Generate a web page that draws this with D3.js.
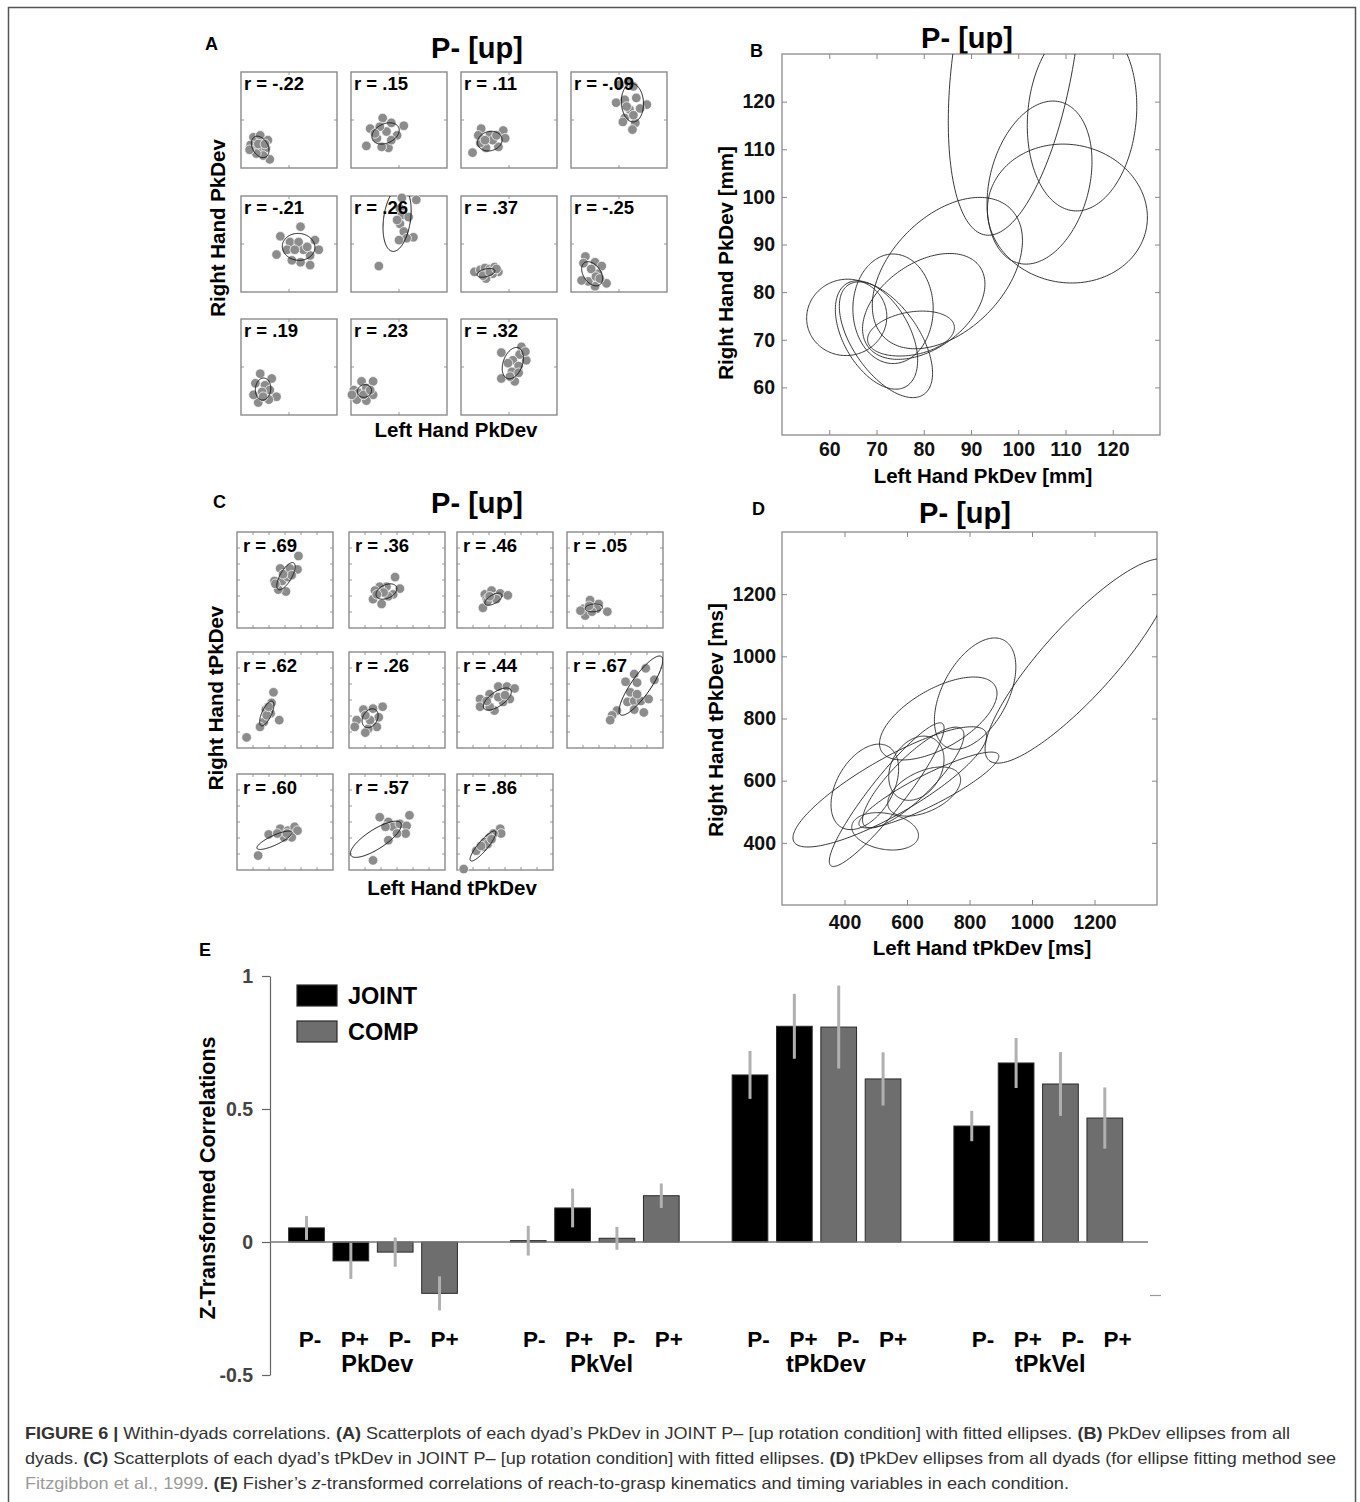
<!DOCTYPE html>
<html>
<head>
<meta charset="utf-8">
<script src="https://cdn.jsdelivr.net/npm/d3@7/dist/d3.min.js"></script>
<style>
body { margin: 0; background: #fff; }
text { font-family: "Liberation Sans", Arial, Helvetica, sans-serif; }
</style>
</head>
<body>
<script>
// ---- panel A: PkDev scatter per dyad (axes are unlabeled, 0-100 per panel)
var panelA_r = ["-.22", ".15", ".11", "-.09", "-.21", ".26", ".37", "-.25", ".19", ".23", ".32"];
var panelA_points = [
    [[13,32],[20,34],[28,29],[10,24],[13,18],[22,22],[26,21],[30,9],[23,13],[16,15],[18,25],[25,25],[9,19]],
    [[16,23],[20,41],[33,52],[42,47],[55,44],[48,34],[39,21],[32,22],[27,31],[37,38],[30,43],[25,36],[42,29]],
    [[12,16],[21,41],[30,34],[44,39],[46,31],[39,22],[26,21],[20,26],[18,34],[33,29],[25,29],[37,34]],
    [[51,87],[60,89],[65,85],[47,68],[56,71],[68,73],[79,66],[72,62],[61,61],[56,52],[67,47],[64,40],[54,48],[65,55],[58,64]],
    [[41,58],[62,68],[51,52],[60,52],[77,54],[81,44],[72,38],[72,28],[62,31],[53,33],[37,39],[48,44],[65,44],[69,47],[56,44]],
    [[53,98],[68,96],[51,87],[53,80],[60,78],[51,71],[55,63],[65,57],[58,56],[50,54],[29,27],[48,75]],
    [[14,21],[20,23],[25,25],[30,24],[35,26],[39,21],[33,19],[26,14],[23,17],[30,21],[37,24]],
    [[15,37],[13,30],[25,31],[32,27],[28,19],[37,9],[25,6],[18,11],[11,12],[21,24],[26,16],[30,14]],
    [[20,43],[32,38],[15,33],[25,31],[30,26],[37,19],[29,16],[18,13],[13,21],[22,24],[23,19]],
    [[11,35],[23,35],[3,26],[8,23],[16,28],[23,21],[16,15],[6,16],[1,21],[13,21],[20,26]],
    [[42,65],[63,71],[68,57],[61,63],[54,57],[49,54],[60,51],[53,45],[42,38],[56,35],[51,40],[60,44],[67,66]]
];
// [cx, cy, rx, ry, rotation deg]
var panelA_ellipses = [
    [20,22,8,12,30], [36,36,15,10,25], [30,28,13,10,15], [64,68,11.5,20,3],
    [60,47,17,14,-5], [48,76,14,34,-8], [26,20,9.5,4,15], [22,19,9,14,35],
    [23,27,8,11.5,-5], [14,25,7.5,6.5,20], [54,54,10,17,-20]
];

// ---- panel C: tPkDev scatter per dyad
var panelC_r = [".69", ".36", ".46", ".05", ".62", ".26", ".44", ".67", ".60", ".57", ".86"];
var panelC_points = [
    [[64,75],[63,61],[55,62],[45,62],[39,49],[47,49],[53,53],[51,38],[43,40],[40,46],[57,55],[48,56]],
    [[48,53],[53,41],[46,35],[39,43],[32,43],[27,39],[25,30],[34,25],[41,33],[36,37],[29,35]],
    [[29,35],[36,39],[45,36],[53,34],[38,32],[31,30],[27,21],[32,28],[41,30],[34,33]],
    [[17,20],[24,29],[33,25],[31,20],[42,17],[19,13],[26,17],[23,23],[14,18]],
    [[38,58],[36,47],[30,40],[35,36],[44,29],[28,27],[24,22],[10,11],[31,34],[33,43]],
    [[15,40],[35,43],[25,41],[31,32],[29,22],[20,20],[17,16],[8,29],[6,22],[22,29],[17,34]],
    [[24,51],[24,43],[34,56],[43,64],[52,64],[60,62],[55,51],[48,48],[39,39],[34,43],[31,49],[43,53],[50,55]],
    [[70,77],[82,83],[91,71],[73,68],[61,69],[63,48],[70,49],[77,49],[85,51],[80,37],[70,40],[52,39],[47,34],[45,29],[66,58],[73,56]],
    [[33,37],[45,43],[53,41],[60,45],[63,41],[57,34],[49,34],[42,38],[22,15],[52,38]],
    [[32,55],[41,50],[46,45],[53,48],[63,57],[60,46],[59,38],[50,38],[41,31],[25,10],[38,45]],
    [[45,43],[46,38],[38,38],[34,34],[29,29],[27,24],[20,20],[7,1],[32,27],[25,25],[36,32]]
];
var panelC_ellipses = [
    [51,54,16,6,60], [39,38,11.5,7,25], [38,30,10,4.5,30], [28,21,9,4,5],
    [31,36,14,5,65], [22,31,10.5,7.5,60], [42,51,17,7.5,35], [77,65,37,10,55],
    [39,31,20,5,25], [28,32,31,10,33], [27,25,20,5,50]
];

// ---- panel B: PkDev ellipses, all dyads [mm]
var panelB_ellipses = [
    [99.3,131.5,40,12.8,81], [113.5,117,11.5,20,-5], [104.5,103,17.5,10.5,75],
    [110.4,96.5,17,14.5,-10], [85,84,19,12,45], [80,77,14.5,9,35],
    [73.5,76.5,8.5,11.5,0], [72,70,14,7,-55], [70,71,12.5,7,-60],
    [63.7,74.7,8.5,8,10], [77.3,71.3,9.3,4.5,10]
];
var panelB_ticks = [60, 70, 80, 90, 100, 110, 120];

// ---- panel D: tPkDev ellipses, all dyads [ms]
var panelD_ellipses = [
    [1150,985,430,115,48], [818,880,195,105,62], [700,800,210,95,30],
    [545,580,354,90,30], [465,580,150,90,60], [620,610,220,65,45],
    [670,570,250,50,27], [630,640,110,80,60], [655,565,125,65,25],
    [530,437,108,58,-10], [535,555,290,55,52]
];
var panelD_ticks = [400, 600, 800, 1000, 1200];

// ---- panel E: Fisher z-transformed correlations
var variables = ["PkDev", "PkVel", "tPkDev", "tPkVel"];
var conditions = ["P-", "P+", "P-", "P+"];
var tasks = ["JOINT", "JOINT", "COMP", "COMP"];
var zValues = [
    [0.053, -0.071, -0.038, -0.193],
    [0.005, 0.128, 0.014, 0.174],
    [0.628, 0.811, 0.808, 0.613],
    [0.436, 0.673, 0.594, 0.466]
];
var zErrors = [
    [0.045, 0.068, 0.055, 0.064],
    [0.056, 0.073, 0.043, 0.046],
    [0.090, 0.122, 0.156, 0.100],
    [0.057, 0.094, 0.120, 0.115]
];
var zTicks = [-0.5, 0, 0.5, 1];

var W = 1360, H = 1502;
var svg = d3.select("body").append("svg")
    .attr("width", W)
    .attr("height", H);

// outer frame
svg.append("path")
    .attr("d", "M8.5," + H + "V7.5H1355.5V" + H)
    .attr("fill", "none")
    .attr("stroke", "#555")
    .attr("stroke-width", 1.5);

function ellipsePoints(e) {
    var th = e[4] * Math.PI / 180;
    return d3.range(0, 181).map(function(i) {
        var t = i / 180 * 2 * Math.PI;
        return [e[0] + e[2] * Math.cos(t) * Math.cos(th) - e[3] * Math.sin(t) * Math.sin(th),
                e[1] + e[2] * Math.cos(t) * Math.sin(th) + e[3] * Math.sin(t) * Math.cos(th)];
    });
}

var clipCount = 0;
function addClip(x, y, w, h) {
    var id = "clip" + (clipCount++);
    svg.append("clipPath").attr("id", id)
        .append("rect").attr("x", x).attr("y", y).attr("width", w).attr("height", h);
    return "url(#" + id + ")";
}

function boldText(x, y, str, size, anchor) {
    return svg.append("text")
        .attr("x", x).attr("y", y)
        .attr("font-size", size)
        .attr("font-weight", "bold")
        .attr("text-anchor", anchor || "start")
        .text(str);
}

function rotText(x, y, str, size) {
    return svg.append("text")
        .attr("transform", "translate(" + x + "," + y + ") rotate(-90)")
        .attr("font-size", size)
        .attr("font-weight", "bold")
        .attr("text-anchor", "middle")
        .text(str);
}

// grid of small scatter plots
function scatterGrid(cols, rows, size, rLabels, pts, ells, nTicks, labelDx, labelDy) {
    rLabels.forEach(function(r, i) {
        var x0 = cols[i % 4], y0 = rows[Math.floor(i / 4)];
        var xs = d3.scaleLinear().domain([0, 100]).range([x0, x0 + size]);
        var ys = d3.scaleLinear().domain([0, 100]).range([y0 + size, y0]);
        var g = svg.append("g");

        var tv = d3.range(1, nTicks).map(function(k) { return k * 100 / nTicks; });
        tv.forEach(function(v) {
            g.append("line").attr("x1", xs(v)).attr("x2", xs(v)).attr("y1", y0 + size).attr("y2", y0 + size - 3);
            g.append("line").attr("x1", xs(v)).attr("x2", xs(v)).attr("y1", y0).attr("y2", y0 + 3);
            g.append("line").attr("y1", ys(v)).attr("y2", ys(v)).attr("x1", x0).attr("x2", x0 + 3);
            g.append("line").attr("y1", ys(v)).attr("y2", ys(v)).attr("x1", x0 + size).attr("x2", x0 + size - 3);
        });
        g.selectAll("line").attr("stroke", "#999").attr("stroke-width", 1);

        g.append("rect")
            .attr("x", x0).attr("y", y0).attr("width", size).attr("height", size)
            .attr("fill", "none").attr("stroke", "#8a8a8a").attr("stroke-width", 1.4);

        g.selectAll("circle").data(pts[i]).enter().append("circle")
            .attr("cx", function(d) { return xs(d[0]); })
            .attr("cy", function(d) { return ys(d[1]); })
            .attr("r", 4.8)
            .attr("fill", "#8c8c8c")
            .attr("stroke", "#fff")
            .attr("stroke-width", 0.7);

        var line = d3.line().x(function(d) { return xs(d[0]); }).y(function(d) { return ys(d[1]); });
        g.append("path")
            .attr("d", line(ellipsePoints(ells[i])))
            .attr("fill", "none")
            .attr("stroke", "#111")
            .attr("stroke-width", 1)
            .attr("clip-path", addClip(x0, y0, size, size));

        boldText(x0 + labelDx, y0 + labelDy, "r = " + r, 18.5);
    });
}

// big ellipse panel with matlab-style inward ticks on all sides
function ellipsePanel(x0, y0, w, h, domain, ticks, ells, padX, padY) {
    var xs = d3.scaleLinear().domain(domain).range([x0, x0 + w]);
    var ys = d3.scaleLinear().domain(domain).range([y0 + h, y0]);

    var axes = [
        [d3.axisBottom(xs), y0 + h, true, "x"],
        [d3.axisTop(xs), y0, false, "x"],
        [d3.axisLeft(ys), x0, true, "y"],
        [d3.axisRight(ys), x0 + w, false, "y"]
    ];
    axes.forEach(function(a) {
        var ax = a[0].tickValues(ticks).tickSizeInner(-5).tickSizeOuter(0)
            .tickPadding(a[3] === "x" ? padX : padY)
            .tickFormat(a[2] ? d3.format("d") : "");
        var g = svg.append("g")
            .attr("transform", a[3] === "x" ? "translate(0," + a[1] + ")" : "translate(" + a[1] + ",0)")
            .call(ax);
        g.select(".domain").remove();
        g.selectAll(".tick line").attr("stroke", "#888");
        g.selectAll(".tick text")
            .attr("font-size", 19.5).attr("font-weight", "bold")
            .attr("fill", "#111")
            .attr("font-family", "Liberation Sans, Arial, sans-serif");
    });

    svg.append("rect")
        .attr("x", x0).attr("y", y0).attr("width", w).attr("height", h)
        .attr("fill", "none").attr("stroke", "#8a8a8a").attr("stroke-width", 1.3);

    var line = d3.line().x(function(d) { return xs(d[0]); }).y(function(d) { return ys(d[1]); });
    svg.append("g")
        .attr("clip-path", addClip(x0, y0, w, h))
        .selectAll("path").data(ells).enter().append("path")
        .attr("d", function(e) { return line(ellipsePoints(e)); })
        .attr("fill", "none")
        .attr("stroke", "#222")
        .attr("stroke-width", 0.9);
}

// ---- A
boldText(205, 50, "A", 18);
boldText(477, 58, "P- [up]", 29, "middle");
scatterGrid([241, 351, 461, 571], [72, 196, 319], 96, panelA_r, panelA_points, panelA_ellipses, 2, 3, 18);
rotText(225, 228, "Right Hand PkDev", 20.5);
boldText(456, 437, "Left Hand PkDev", 20.5, "middle");

// ---- B
boldText(750, 57, "B", 18);
boldText(967, 48, "P- [up]", 29, "middle");
ellipsePanel(782, 54, 378, 381, [50, 130], panelB_ticks, panelB_ellipses, 7, 7);
rotText(733, 263, "Right Hand PkDev [mm]", 20.5);
boldText(983, 483, "Left Hand PkDev [mm]", 20.5, "middle");

// ---- C
boldText(213, 508, "C", 18);
boldText(477, 513, "P- [up]", 29, "middle");
scatterGrid([237, 349, 457, 567], [532, 652, 774], 96, panelC_r, panelC_points, panelC_ellipses, 6, 6, 20);
rotText(223, 698, "Right Hand tPkDev", 20.5);
boldText(452, 895, "Left Hand tPkDev", 20.5, "middle");

// ---- D
boldText(752, 515, "D", 18);
boldText(965, 523, "P- [up]", 29, "middle");
ellipsePanel(782, 532, 375, 373, [200, 1400], panelD_ticks, panelD_ellipses, 10, 6);
rotText(723, 720, "Right Hand tPkDev [ms]", 20.5);
boldText(982, 955, "Left Hand tPkDev [ms]", 20.5, "middle");

// ---- E bar chart
boldText(199, 956, "E", 18);
var ey = d3.scaleLinear().domain([-0.5, 1]).range([1375, 976]);
var slot = d3.scaleLinear().domain([0, 18]).range([306.5, 1104.8]);
var labelSlot = d3.scaleLinear().domain([0, 18]).range([310, 1117.5]);
var barW = 35.7;

var bars = [];
variables.forEach(function(v, gi) {
    conditions.forEach(function(c, ci) {
        bars.push({k: gi * 5 + ci, v: zValues[gi][ci], e: zErrors[gi][ci], task: tasks[ci], cond: c});
    });
});

var yAxis = svg.append("g")
    .attr("transform", "translate(270,0)")
    .call(d3.axisLeft(ey).tickValues(zTicks).tickSizeInner(8).tickSizeOuter(0).tickPadding(9)
        .tickFormat(function(d) { return String(d); }));
yAxis.select(".domain").attr("stroke", "#666").attr("stroke-width", 1.2);
yAxis.selectAll(".tick line").attr("stroke", "#666").attr("stroke-width", 1.2);
yAxis.selectAll(".tick text")
    .attr("font-size", 19.5).attr("font-weight", "bold").attr("fill", "#444")
    .attr("font-family", "Liberation Sans, Arial, sans-serif");

svg.selectAll("rect.bar").data(bars).enter().append("rect")
    .attr("class", "bar")
    .attr("x", function(d) { return slot(d.k) - barW / 2; })
    .attr("width", barW)
    .attr("y", function(d) { return ey(Math.max(0, d.v)); })
    .attr("height", function(d) { return Math.abs(ey(d.v) - ey(0)); })
    .attr("fill", function(d) { return d.task === "JOINT" ? "#000" : "#6e6e6e"; })
    .attr("stroke", "#2a2a2a")
    .attr("stroke-width", 1);

svg.append("line")
    .attr("x1", 270).attr("x2", 1148)
    .attr("y1", ey(0)).attr("y2", ey(0))
    .attr("stroke", "#777").attr("stroke-width", 1.4);

svg.selectAll("line.err").data(bars).enter().append("line")
    .attr("class", "err")
    .attr("x1", function(d) { return slot(d.k); })
    .attr("x2", function(d) { return slot(d.k); })
    .attr("y1", function(d) { return ey(d.v + d.e); })
    .attr("y2", function(d) { return ey(d.v - d.e); })
    .attr("stroke", "#b0b0b0")
    .attr("stroke-width", 3);

svg.selectAll("text.cond").data(bars).enter().append("text")
    .attr("class", "cond")
    .attr("x", function(d) { return labelSlot(d.k); })
    .attr("y", 1347)
    .attr("text-anchor", "middle")
    .attr("font-size", 22.5)
    .attr("font-weight", "bold")
    .text(function(d) { return d.cond; });

svg.selectAll("text.var").data(variables).enter().append("text")
    .attr("class", "var")
    .attr("x", function(d, i) { return labelSlot(i * 5 + 1.5); })
    .attr("y", 1372)
    .attr("text-anchor", "middle")
    .attr("font-size", 23.5)
    .attr("font-weight", "bold")
    .text(function(d) { return d; });

// small stray tick at right
svg.append("line")
    .attr("x1", 1150).attr("x2", 1161).attr("y1", 1295.5).attr("y2", 1295.5)
    .attr("stroke", "#999").attr("stroke-width", 1.2);

rotText(215, 1178, "Z-Transformed Correlations", 21.5);

// legend
var legendItems = ["JOINT", "COMP"];
legendItems.forEach(function(name, i) {
    svg.append("rect")
        .attr("x", 297).attr("y", 985 + i * 36)
        .attr("width", 40).attr("height", 21)
        .attr("fill", name === "JOINT" ? "#000" : "#6e6e6e")
        .attr("stroke", "#2a2a2a").attr("stroke-width", 1.2);
    boldText(348, 1004 + i * 36, name, 23.5);
});

// ---- caption
var capLines = [
    [[["FIGURE 6 | ", "b"], ["Within-dyads correlations. ", ""], ["(A)", "b"],
      [" Scatterplots of each dyad\u2019s PkDev in JOINT P\u2013 [up rotation condition] with fitted ellipses. ", ""],
      ["(B)", "b"], [" PkDev ellipses from all", ""]], 1439, 1265],
    [[["dyads. ", ""], ["(C)", "b"],
      [" Scatterplots of each dyad\u2019s tPkDev in JOINT P\u2013 [up rotation condition] with fitted ellipses. ", ""],
      ["(D)", "b"], [" tPkDev ellipses from all dyads (for ellipse fitting method see", ""]], 1464, 1311],
    [[["Fitzgibbon et al., 1999", "link"], [". ", ""], ["(E)", "b"], [" Fisher\u2019s ", ""], ["z", "i"],
      ["-transformed correlations of reach-to-grasp kinematics and timing variables in each condition.", ""]], 1489, 1044]
];
capLines.forEach(function(l) {
    var t = svg.append("text")
        .attr("x", 25).attr("y", l[1])
        .attr("font-size", 16.5)
        .attr("fill", "#333")
        .attr("textLength", l[2])
        .attr("lengthAdjust", "spacingAndGlyphs");
    l[0].forEach(function(s) {
        var sp = t.append("tspan").text(s[0]);
        if (s[1] === "b") sp.attr("font-weight", "bold");
        if (s[1] === "i") sp.attr("font-style", "italic");
        if (s[1] === "link") sp.attr("fill", "#9a9a9a");
    });
});
</script>
</body>
</html>
